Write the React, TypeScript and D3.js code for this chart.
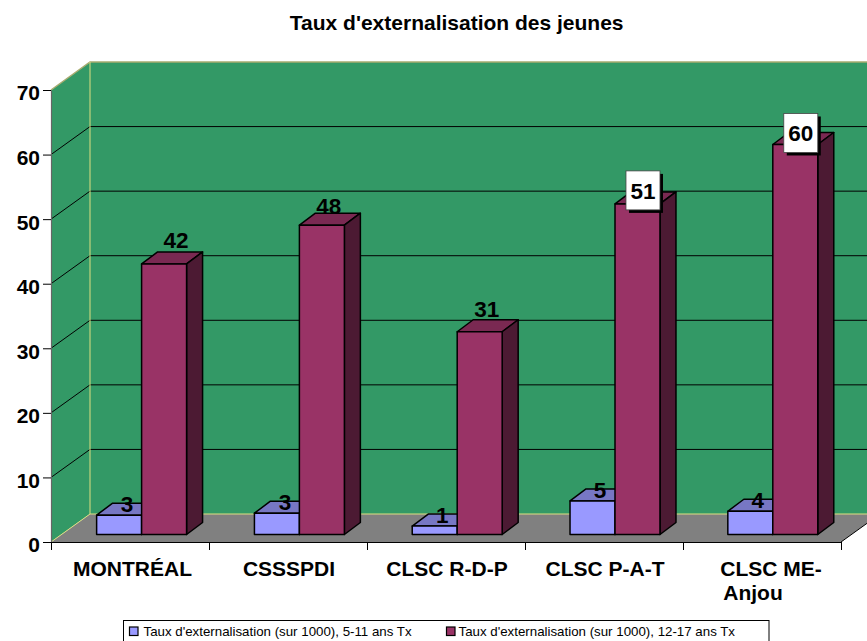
import React, { useEffect, useRef } from 'react';
import * as d3 from 'd3';

const categories = ['MONTRÉAL', 'CSSSPDI', 'CLSC R-D-P', 'CLSC P-A-T', 'CLSC ME-|Anjou'];
const seriesNames = ["Taux d'externalisation (sur 1000), 5-11 ans Tx", "Taux d'externalisation (sur 1000), 12-17 ans Tx"];
const youngRates = [3.0, 3.3, 1.3, 5.2, 3.6];
const olderRates = [41.9, 47.9, 31.4, 51.2, 60.4];
const yTicks = [0, 10, 20, 30, 40, 50, 60, 70];

// labels were moved by hand in the original, so they don't sit at a fixed spot
const youngLabelShift = [[8, -3], [8, -3], [7.5, -3], [7.5, -3], [7.5, -3]];
const olderLabelShift = [[12, -16], [7, -11], [7, -15], [5.5, -5], [5.5, -3]];
const boxedLabels = [false, false, false, true, true];
const categoryLabelShift = [[2.5, 0], [1, 0], [1, 0], [1, 0], [9, -18]];

const W = 867;
const H = 641;
const left = 51;
const right = 841;
const top = 90;
const bottom = 542;
const wallDx = 39;
const wallDy = 28;
const barShiftX = 11.7;
const barShiftY = 7.5;
const depthX = 16;
const depthY = 12;

const App = () => {
  const svgRef = useRef<SVGSVGElement | null>(null);

  useEffect(() => {
    const svg = d3.select(svgRef.current);
    svg.selectAll('*').remove();

    const font = '"Liberation Sans", Arial, sans-serif';
    const y = d3.scaleLinear().domain([0, 70]).range([bottom, top]);
    const xTick = d3.scaleLinear().domain([0, categories.length]).range([left, right]);
    const x0 = d3.scaleBand().domain(categories).range([left, right]);
    const xGroup = d3.scaleBand().domain(categories).range([left, right - 1]).paddingInner(0.43).paddingOuter(0.215);
    const xBar = d3.scaleBand().domain(['young', 'older']).range([0, xGroup.bandwidth()]);

    // walls and floor
    const poly = (pts: number[][]) => pts.map((p) => p.join(',')).join(' ');
    svg.append('polygon')
      .attr('points', poly([[left, bottom], [left, top], [left + wallDx, top - wallDy], [left + wallDx, bottom - wallDy]]))
      .attr('fill', '#339966');
    svg.append('rect')
      .attr('x', left + wallDx).attr('y', top - wallDy)
      .attr('width', W - left - wallDx).attr('height', bottom - top)
      .attr('fill', '#339966');
    svg.append('polygon')
      .attr('points', poly([[left, bottom], [right, bottom], [right + wallDx, bottom - wallDy], [left + wallDx, bottom - wallDy]]))
      .attr('fill', '#808080');

    // gridlines
    svg.append('g').selectAll('polyline')
      .data(yTicks.slice(1, -1))
      .join('polyline')
      .attr('points', (d) => poly([[left, y(d)], [left + wallDx, y(d) - wallDy], [W, y(d) - wallDy]]))
      .attr('fill', 'none')
      .attr('stroke', '#000')
      .attr('stroke-width', 1);

    // pale edges of the wall
    svg.append('polyline')
      .attr('points', poly([[left, top], [left + wallDx, top - wallDy], [W, top - wallDy]]))
      .attr('fill', 'none').attr('stroke', '#a8ac70').attr('stroke-width', 1.5);
    svg.append('polyline')
      .attr('points', poly([[left, bottom], [left + wallDx, bottom - wallDy], [W, bottom - wallDy]]))
      .attr('fill', 'none').attr('stroke', '#dede80').attr('stroke-width', 1);
    svg.append('line')
      .attr('x1', left + wallDx).attr('x2', left + wallDx)
      .attr('y1', top - wallDy).attr('y2', bottom - wallDy)
      .attr('stroke', '#dede80').attr('stroke-width', 1);
    svg.append('line')
      .attr('x1', right).attr('y1', bottom).attr('x2', right + wallDx).attr('y2', bottom - wallDy)
      .attr('stroke', '#000').attr('stroke-width', 1);

    // axes
    const yAxis = svg.append('g')
      .attr('transform', `translate(${left},0)`)
      .call(d3.axisLeft(y).tickValues(yTicks).tickSize(8).tickSizeOuter(0).tickPadding(3));
    yAxis.select('.domain').attr('stroke', '#666').attr('stroke-width', 1.2);
    yAxis.selectAll('text')
      .attr('font-family', font)
      .attr('font-size', 21).attr('font-weight', 700).attr('fill', '#000')
      .attr('dy', '0.47em');

    const xAxis = svg.append('g')
      .attr('transform', `translate(0,${bottom})`)
      .call(d3.axisBottom(xTick).ticks(categories.length).tickFormat(() => '').tickSize(8).tickSizeOuter(0));
    xAxis.select('.domain').attr('stroke', '#000').attr('stroke-width', 1.2);

    // 3d bars
    const drawBars = (key: string, values: number[], front: string, topFace: string, side: string) => {
      values.forEach((v, i) => {
        const c = categories[i];
        const x1 = (xGroup(c) as number) + (xBar(key) as number) + barShiftX;
        const x2 = x1 + xBar.bandwidth();
        const yb = bottom - barShiftY;
        const yt = y(v) - barShiftY;
        const g = svg.append('g').attr('stroke', '#000').attr('stroke-width', 1.5).attr('stroke-linejoin', 'round');
        g.append('polygon').attr('fill', topFace)
          .attr('points', poly([[x1, yt], [x2, yt], [x2 + depthX, yt - depthY], [x1 + depthX, yt - depthY]]));
        g.append('polygon').attr('fill', side)
          .attr('points', poly([[x2, yt], [x2 + depthX, yt - depthY], [x2 + depthX, yb - depthY], [x2, yb]]));
        g.append('polygon').attr('fill', front)
          .attr('points', poly([[x1, yt], [x2, yt], [x2, yb], [x1, yb]]));
      });
    };
    drawBars('young', youngRates, '#9999ff', '#7777c4', '#4c4c80');
    drawBars('older', olderRates, '#993366', '#7a2952', '#4c1a33');

    // data labels
    const drawLabel = (key: string, v: number, i: number, shift: number[], boxed: boolean) => {
      const c = categories[i];
      const cx = (xGroup(c) as number) + (xBar(key) as number) + barShiftX + xBar.bandwidth() / 2 + shift[0];
      const base = y(v) - barShiftY + shift[1];
      if (boxed) {
        svg.append('rect').attr('x', cx - 14).attr('y', base - 25).attr('width', 34).attr('height', 39).attr('fill', '#000');
        svg.append('rect').attr('x', cx - 17).attr('y', base - 28).attr('width', 34).attr('height', 39)
          .attr('fill', '#fff').attr('stroke', '#444').attr('stroke-width', 0.8);
      }
      svg.append('text')
        .attr('x', cx).attr('y', base)
        .attr('text-anchor', 'middle')
        .attr('font-family', font).attr('font-size', 22.5).attr('font-weight', 700).attr('fill', '#000')
        .text(d3.format('.0f')(v));
    };
    youngRates.forEach((v, i) => drawLabel('young', v, i, youngLabelShift[i], false));
    olderRates.forEach((v, i) => drawLabel('older', v, i, olderLabelShift[i], boxedLabels[i]));

    // category labels
    categories.forEach((c, i) => {
      const cx = (x0(c) as number) + x0.bandwidth() / 2;
      c.split('|').forEach((line, k) => {
        svg.append('text')
          .attr('x', cx + categoryLabelShift[i][0] + (k === 0 ? 0 : categoryLabelShift[i][1]))
          .attr('y', 575.5 + k * 24.5)
          .attr('text-anchor', 'middle')
          .attr('font-family', font).attr('font-size', 21).attr('font-weight', 700).attr('fill', '#000')
          .text(line);
      });
    });

    // title
    svg.append('text')
      .attr('x', 456.7).attr('y', 29.5)
      .attr('text-anchor', 'middle')
      .attr('font-family', font).attr('font-size', 21).attr('font-weight', 700).attr('fill', '#000')
      .text("Taux d'externalisation des jeunes");

    // legend
    svg.append('rect')
      .attr('x', 123.5).attr('y', 620.5).attr('width', 645.5).attr('height', 40)
      .attr('fill', '#fff').attr('stroke', '#000').attr('stroke-width', 1);
    const legendX = [129.5, 446.5];
    const legendTextX = [143.5, 458.5];
    const legendColors = ['#9999ff', '#993366'];
    seriesNames.forEach((name, i) => {
      svg.append('rect')
        .attr('x', legendX[i]).attr('y', 627).attr('width', 8.5).attr('height', 8.5)
        .attr('fill', legendColors[i]).attr('stroke', '#000').attr('stroke-width', 1.2);
      svg.append('text')
        .attr('x', legendTextX[i]).attr('y', 636)
        .attr('font-family', font).attr('font-size', 13.3).attr('fill', '#000')
        .text(name);
    });
  }, []);

  return (
    <svg
      ref={svgRef}
      width={W}
      height={H}
      style={{ position: 'absolute', left: 0, top: 0, display: 'block', background: '#fff' }}
    />
  );
};

export default App;
